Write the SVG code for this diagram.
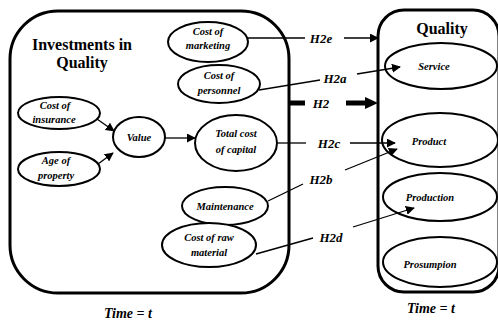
<svg xmlns="http://www.w3.org/2000/svg" width="498" height="322" viewBox="0 0 498 322">
  <defs>
    <marker id="arrow" viewBox="0 0 10 10" refX="9" refY="5" markerWidth="9" markerHeight="9" markerUnits="userSpaceOnUse" orient="auto">
      <path d="M0,0 L10,5 L0,10 z" fill="#000"/>
    </marker>
    <style>
      .box { fill: none; stroke: #000; stroke-width: 3; }
      .node { fill: #fff; stroke: #000; stroke-width: 2; }
      .lbl { font-family: "Liberation Serif", serif; font-style: italic; font-weight: bold; font-size: 10.5px; text-anchor: middle; }
      .title { font-family: "Liberation Serif", serif; font-weight: bold; font-size: 16px; text-anchor: middle; }
      .hyp { font-family: "Liberation Serif", serif; font-style: italic; font-weight: bold; font-size: 13px; text-anchor: middle; }
      .time { font-family: "Liberation Serif", serif; font-style: italic; font-weight: bold; font-size: 14px; text-anchor: middle; }
      .edge { fill: none; stroke: #000; stroke-width: 1.3; }
    </style>
  </defs>

  <rect fill="#fff" x="0" y="0" width="498" height="322"/>

  <!-- containers -->
  <g id="investments">
    <rect class="box" x="10" y="11" width="279" height="282" rx="48" ry="48"/>
    <text class="title" x="82" y="50">Investments in</text>
    <text class="title" x="82" y="68">Quality</text>
  </g>
  <g id="quality">
    <rect class="box" x="378" y="10" width="121" height="282" rx="26" ry="26"/>
    <text class="title" x="442" y="34">Quality</text>
  </g>

  <!-- investment nodes -->
  <g id="cost-marketing">
    <ellipse class="node" cx="208" cy="42" rx="40" ry="20"/>
    <text class="lbl" x="208" y="35">Cost of</text>
    <text class="lbl" x="208" y="49">marketing</text>
  </g>
  <g id="cost-personnel">
    <ellipse class="node" cx="219" cy="84" rx="41" ry="19"/>
    <text class="lbl" x="219" y="79">Cost of</text>
    <text class="lbl" x="219" y="94">personnel</text>
  </g>
  <g id="total-cost-capital">
    <ellipse class="node" cx="236" cy="143" rx="41" ry="28"/>
    <text class="lbl" x="236" y="137">Total cost</text>
    <text class="lbl" x="236" y="153">of capital</text>
  </g>
  <g id="maintenance">
    <ellipse class="node" cx="225" cy="206" rx="43" ry="19"/>
    <text class="lbl" x="225" y="210">Maintenance</text>
  </g>
  <g id="cost-raw-material">
    <ellipse class="node" cx="209" cy="245" rx="47" ry="22"/>
    <text class="lbl" x="209" y="241">Cost of raw</text>
    <text class="lbl" x="209" y="256">material</text>
  </g>
  <g id="cost-insurance">
    <ellipse class="node" cx="59" cy="113" rx="41" ry="16"/>
    <text class="lbl" x="55" y="109">Cost of</text>
    <text class="lbl" x="54" y="123">insurance</text>
  </g>
  <g id="age-property">
    <ellipse class="node" cx="59" cy="169" rx="41" ry="17"/>
    <text class="lbl" x="56" y="164">Age of</text>
    <text class="lbl" x="56" y="179">property</text>
  </g>
  <g id="value">
    <ellipse class="node" cx="139" cy="137" rx="26" ry="20"/>
    <text class="lbl" x="139" y="141">Value</text>
  </g>

  <!-- quality nodes -->
  <g id="service">
    <ellipse class="node" cx="441" cy="66" rx="56" ry="23"/>
    <text class="lbl" x="434" y="70">Service</text>
  </g>
  <g id="product">
    <ellipse class="node" cx="440" cy="140" rx="58" ry="27"/>
    <text class="lbl" x="429" y="145">Product</text>
  </g>
  <g id="production">
    <ellipse class="node" cx="440" cy="197" rx="57" ry="24"/>
    <text class="lbl" x="430" y="201">Production</text>
  </g>
  <g id="prosumption">
    <ellipse class="node" cx="440" cy="262" rx="57" ry="25"/>
    <text class="lbl" x="430" y="268">Prosumpion</text>
  </g>

  <!-- connectors, drawn over the nodes so arrowheads land inside them -->
  <g id="connectors">
    <line class="edge" x1="97" y1="119" x2="114" y2="131" marker-end="url(#arrow)"/>
    <line class="edge" x1="98" y1="164" x2="113" y2="153" marker-end="url(#arrow)"/>
    <line class="edge" x1="165" y1="138" x2="195" y2="138" marker-end="url(#arrow)"/>

    <!-- H2e -->
    <line class="edge" x1="248" y1="38" x2="305" y2="38"/>
    <line class="edge" x1="344" y1="38" x2="378" y2="38" marker-end="url(#arrow)"/>
    <!-- H2a -->
    <line class="edge" x1="259" y1="90" x2="320" y2="80"/>
    <line class="edge" x1="357" y1="74" x2="400" y2="67" marker-end="url(#arrow)"/>
    <!-- H2 -->
    <line x1="289" y1="103" x2="305" y2="103" stroke="#000" stroke-width="5"/>
    <line x1="346" y1="103" x2="367" y2="103" stroke="#000" stroke-width="5"/>
    <path d="M365,97 L378,103 L365,109 z" fill="#000"/>
    <!-- H2c -->
    <line class="edge" x1="278" y1="143" x2="306" y2="143"/>
    <line class="edge" x1="350" y1="143" x2="395" y2="143" marker-end="url(#arrow)"/>
    <!-- H2b -->
    <line class="edge" x1="268" y1="201" x2="303" y2="184"/>
    <line class="edge" x1="345" y1="170" x2="397" y2="149" marker-end="url(#arrow)"/>
    <!-- H2d -->
    <line class="edge" x1="256" y1="254" x2="313" y2="238"/>
    <line class="edge" x1="353" y1="227" x2="414" y2="208" marker-end="url(#arrow)"/>

    <text class="hyp" x="321" y="43">H2e</text>
    <text class="hyp" x="335" y="83">H2a</text>
    <text class="hyp" x="321" y="108">H2</text>
    <text class="hyp" x="329" y="148">H2c</text>
    <text class="hyp" x="321" y="184">H2b</text>
    <text class="hyp" x="331" y="242">H2d</text>
  </g>

  <text class="time" x="128" y="318">Time = t</text>
  <text class="time" x="431" y="313">Time = t</text>
</svg>
